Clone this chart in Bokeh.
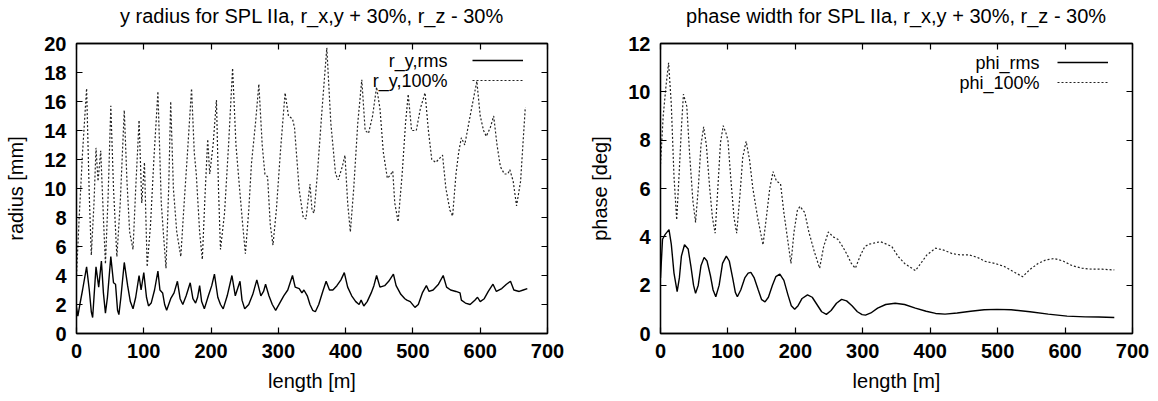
from bokeh.plotting import figure
from bokeh.layouts import row
from bokeh.models import Range1d, LinearAxis, FixedTicker, CustomJSTickFormatter, Legend, LegendItem, Label
from bokeh.embed import file_html
from bokeh.resources import INLINE

FONT = "Liberation Sans"

# ---------------- data: left panel (y radius) ----------------
ry100_x = [0, 4, 9, 15, 19, 22, 26, 29, 32, 36, 40, 43, 47, 51, 55, 60, 65, 71, 75, 79, 84, 88, 93, 97, 101, 105,
           110, 115, 121, 126, 129, 133, 137, 140, 144, 149, 155,
           160, 165, 171, 175, 178, 183, 187, 191, 195, 198, 203, 208, 211, 214,
           220, 226, 232, 237, 242, 247, 251, 256, 260, 266, 271, 276, 280, 284, 288, 292,
           297, 303, 310, 315, 321, 324, 331, 337, 341, 347, 350, 353, 358, 365, 372, 378, 385, 389, 395, 399, 403, 407,
           412, 418, 424, 429, 434, 440, 446, 451, 456, 462, 466, 470, 473, 478,
           484, 489, 493, 498, 505, 511, 518, 523, 528, 534, 540, 544, 549, 555, 559,
           564, 568, 572, 577, 585, 595, 600, 605, 609, 615, 620, 625, 630, 636, 641, 644, 649, 654, 660, 667]
ry100_y = [4.0, 8.0, 12.5, 16.9, 9.5, 5.4, 9.0, 12.8, 10.5, 12.6, 8.0, 4.8, 9.5, 15.7, 10.0, 5.3, 9.0, 15.4, 10.5, 7.0, 5.8, 10.0, 14.7, 9.0, 11.8, 4.6,
           7.5, 12.0, 16.7, 9.0, 7.0, 4.5, 10.0, 16.0, 10.0, 7.0, 5.3,
           9.0, 12.5, 16.9, 12.5, 11.0, 7.0, 5.1, 9.5, 13.4, 11.0, 13.0, 16.1, 10.0, 5.8,
           8.3, 13.0, 18.3, 13.0, 10.2, 7.5, 5.5, 8.5, 11.7, 14.5, 17.2, 13.0, 11.0, 10.8, 7.5, 6.1,
           8.5, 12.5, 16.6, 15.0, 14.8, 14.2, 9.9, 8.0, 7.9, 10.3, 8.5, 8.3, 11.0, 15.5, 19.7, 14.5, 11.0, 10.6, 11.5, 12.3, 9.0, 7.0,
           10.0, 14.5, 17.5, 14.0, 13.8, 15.0, 17.0, 15.5, 12.5, 10.7, 10.9, 11.2, 9.0, 7.7,
           11.0, 14.5, 16.5, 14.0, 14.0, 15.5, 16.6, 14.0, 12.0, 11.8, 12.1, 12.3, 10.0, 8.5, 8.1,
           11.0, 12.5, 13.5, 13.0, 15.0, 17.4, 15.0, 14.0, 13.6, 14.2, 15.0, 13.0, 11.5, 11.0, 11.0, 11.3, 10.5, 8.8, 10.5, 15.6]

ryrms_x = [0, 2, 5, 9, 15, 19, 22, 24, 26, 29, 33, 37, 40, 43, 46, 51, 55, 58, 61, 63, 66, 71, 76, 80, 84, 88, 93, 96,
           100, 104, 107, 111, 116, 121, 124, 128, 131, 134, 140, 145, 150, 154, 158, 163, 169, 173, 177, 180, 183, 186,
           190, 196, 201, 205, 210, 214, 218, 224, 231, 236, 243, 246, 250, 256, 262, 268, 274, 278, 281, 286, 291, 296,
           302, 308, 314, 321, 325, 331, 335, 338, 343, 347, 351, 355, 360, 366, 371, 376, 381, 387, 393, 398, 403, 409,
           415, 420, 423, 427, 432, 438, 442, 446, 451, 458, 464, 471, 475, 482, 488, 491, 496, 503, 508, 514, 520, 524,
           530, 538, 545, 550, 556, 564, 570, 572, 578, 585, 592, 596, 600, 606, 612, 619, 624, 632, 639, 645, 650, 658,
           664, 670]
ryrms_y = [1.8, 1.2, 2.0, 3.0, 4.6, 3.0, 1.5, 1.1, 2.5, 4.6, 3.2, 5.0, 2.8, 1.4, 2.5, 5.3, 3.5, 3.4, 1.6, 1.3, 2.5, 4.9, 3.3, 2.2, 1.7, 2.5, 4.0, 3.0,
           4.2, 2.5, 1.9, 2.1, 3.0, 4.3, 3.0, 2.8, 2.0, 1.6, 2.4, 2.8, 3.6, 2.4, 2.0, 2.6, 3.5, 2.4, 2.1, 2.5, 3.3, 2.2,
           1.7, 2.6, 3.3, 4.1, 2.5, 2.0, 1.7, 2.6, 4.0, 2.6, 3.6, 2.3, 1.7, 2.0, 2.7, 3.7, 2.6, 2.9, 3.4, 2.6, 2.0, 1.6,
           2.1, 2.6, 3.0, 4.0, 3.2, 3.1, 2.8, 3.0, 2.6, 2.0, 1.6, 1.5, 2.0, 2.9, 3.6, 3.0, 3.0, 3.3, 3.7, 4.2, 3.2, 2.6,
           2.2, 2.0, 2.3, 1.9, 2.2, 2.8, 3.3, 4.0, 3.2, 3.3, 3.6, 4.1, 3.3, 2.7, 2.4, 2.3, 2.2, 1.8, 2.0, 2.8, 3.3, 2.9,
           3.0, 3.4, 4.0, 3.2, 3.0, 2.9, 2.8, 2.3, 2.1, 2.0, 2.3, 2.5, 2.2, 2.4, 2.9, 3.4, 2.9, 3.1, 3.4, 3.6, 3.0, 2.9,
           3.0, 3.1]

# ---------------- data: right panel (phase width) ----------------
phi100_x = [0, 4, 8, 12, 16, 20, 24, 28, 31, 34, 39, 43, 48, 52, 56, 60, 64, 68, 73, 77, 81, 85, 89, 93, 97, 100,
            104, 109, 113, 118, 122, 127, 132, 137, 144, 152, 157, 162, 167, 172, 178, 183, 189, 193.5, 198, 203, 207,
            214, 220, 228, 236, 242, 249, 256, 263, 270, 277, 283, 289, 296, 303, 310, 318, 326, 335, 343, 352, 362,
            370, 378, 386, 395, 408, 420, 433, 446, 458, 470, 482, 496, 510, 524, 537, 548, 560, 572, 584, 597, 611,
            625, 640, 655, 673]
phi100_y = [7.0, 9.0, 10.2, 11.2, 9.5, 6.5, 4.7, 6.8, 8.5, 9.9, 9.4, 7.5, 5.5, 4.6, 6.0, 7.8, 8.55, 7.8, 6.0, 4.8, 4.15, 6.0, 7.9, 8.6, 8.3, 8.0,
            6.5, 4.8, 4.15, 5.8, 7.3, 7.95, 7.2, 6.0, 4.8, 3.67, 4.8, 6.0, 6.7, 6.3, 6.2, 5.0, 3.8, 2.9, 4.2, 5.1, 5.26,
            5.0, 4.2, 3.4, 2.7, 3.6, 4.2, 4.0, 3.9, 3.6, 3.25, 2.9, 2.7, 3.2, 3.6, 3.7, 3.75, 3.8, 3.7, 3.6, 3.2, 2.9,
            2.75, 2.6, 2.9, 3.25, 3.53, 3.45, 3.3, 3.25, 3.25, 3.15, 2.98, 2.9, 2.77, 2.55, 2.35, 2.65, 2.9, 3.05, 3.1, 3.0, 2.8,
            2.7, 2.66, 2.66, 2.63]

phirms_x = [0, 3, 7, 12.6, 16, 20, 24.7, 28, 31, 35.6, 41, 45, 49, 52, 56, 60, 64.7, 69, 74, 78, 82, 87, 92, 97.6,
            102, 107, 111, 114, 119, 125, 130, 134, 139, 145, 150, 155, 160, 166, 171, 177, 183, 189, 194, 199, 204,
            210, 218, 225, 232, 239, 246, 253, 261, 268.6, 276, 284, 292, 299, 304, 312, 322, 334, 348, 362, 378, 394,
            408, 422, 440, 460, 480, 499, 520, 548, 575, 603, 630, 650, 673]
phirms_y = [2.3, 3.9, 4.1, 4.3, 3.7, 2.5, 1.73, 2.3, 3.2, 3.67, 3.5, 2.8, 2.0, 1.66, 2.0, 2.8, 3.15, 3.0, 2.4, 1.8, 1.52, 2.0, 2.9, 3.2,
            3.0, 2.3, 1.7, 1.52, 1.8, 2.3, 2.5, 2.53, 2.3, 1.8, 1.4, 1.31, 1.5, 2.0, 2.35, 2.46, 2.2, 1.6, 1.15, 1.0, 1.15,
            1.45, 1.6, 1.5, 1.2, 0.9, 0.79, 0.95, 1.25, 1.41, 1.35, 1.15, 0.9, 0.78, 0.76, 0.85, 1.05, 1.2, 1.25, 1.2, 1.05, 0.92,
            0.83, 0.8, 0.85, 0.92, 0.98, 1.0, 0.98, 0.9, 0.8, 0.72, 0.69, 0.68, 0.66]

x_ticks = [0, 100, 200, 300, 400, 500, 600, 700]
left_y_ticks = [0, 2, 4, 6, 8, 10, 12, 14, 16, 18, 20]
right_y_ticks = [0, 2, 4, 6, 8, 10, 12]

FRAME_H = 290


def style_axis(ax, ticks, show_labels=True):
    ax.ticker = FixedTicker(ticks=ticks)
    ax.major_tick_in = 6
    ax.major_tick_out = 0
    ax.minor_tick_line_color = None
    ax.axis_line_color = "black"
    ax.axis_line_width = 1.3
    ax.major_tick_line_color = "black"
    ax.major_tick_line_width = 1.2
    ax.major_label_text_font = FONT
    ax.major_label_text_font_size = "20px"
    ax.major_label_text_font_style = "bold"
    ax.major_label_text_color = "black"
    ax.axis_label_text_font = FONT
    ax.axis_label_text_font_size = "20px"
    ax.axis_label_text_font_style = "normal"
    ax.axis_label_text_color = "black"
    ax.major_label_standoff = 10
    if not show_labels:
        ax.formatter = CustomJSTickFormatter(code="return ''")
        ax.major_label_text_font_size = "1px"
        ax.major_label_standoff = 0


def make_fig(title, ymax, yticks, ylabel, bl, fw, br):
    p = figure(frame_width=fw, frame_height=FRAME_H, min_border_left=bl, min_border_right=br,
               min_border_top=43, min_border_bottom=68,
               x_range=Range1d(0, 700), y_range=Range1d(0, ymax),
               output_backend="svg", toolbar_location=None)
    p.xgrid.visible = False
    p.ygrid.visible = False
    p.outline_line_color = "black"
    p.outline_line_width = 1.3
    style_axis(p.xaxis[0], x_ticks)
    style_axis(p.yaxis[0], yticks)
    p.xaxis[0].axis_label = "length [m]"
    p.yaxis[0].axis_label = ylabel
    p.xaxis[0].axis_label_standoff = 9
    p.yaxis[0].axis_label_standoff = 14
    # mirrored top axis (ticks only); its label carries the chart title
    top = LinearAxis()
    style_axis(top, x_ticks, show_labels=False)
    top.axis_label = title
    top.axis_label_text_font_size = "20px"
    top.axis_label_standoff = 17
    right = LinearAxis()
    style_axis(right, yticks, show_labels=False)
    p.add_layout(top, "above")
    p.add_layout(right, "right")
    return p


def add_legend(p, renderers, labels, loc, text_x, text_ys):
    items = [LegendItem(label=" ", renderers=[r]) for r in renderers]
    leg = Legend(items=items, location=loc, orientation="vertical")
    leg.background_fill_alpha = 0
    leg.border_line_color = None
    leg.padding = 0
    leg.margin = 0
    leg.spacing = 0
    leg.glyph_width = 51
    leg.glyph_height = 20
    leg.label_height = 20
    leg.label_width = 1
    leg.label_standoff = 0
    leg.label_text_font_size = "2px"
    p.add_layout(leg, "center")
    for lab, ty in zip(labels, text_ys):
        p.add_layout(Label(x=text_x, y=ty, x_units="screen", y_units="screen", text=lab,
                           text_align="right", text_baseline="middle", text_font=FONT,
                           text_font_size="18px", text_color="black"))


# left panel
p1 = make_fig("y radius for SPL IIa, r_x,y + 30%, r_z - 30%", 20, left_y_ticks, "radius [mm]", 76, 471, 33)
r1 = p1.line(ryrms_x, ryrms_y, line_color="black", line_width=1.4)
r2 = p1.line(ry100_x, ry100_y, line_color="#222222", line_width=1.2, line_dash="2 2")
add_legend(p1, [r1, r2], ["r_y,rms", "r_y,100%"], (396, 243), 371, [273, 253])

# right panel
p2 = make_fig("phase width for SPL IIa, r_x,y + 30%, r_z - 30%", 12, right_y_ticks, "phase [deg]", 80, 472, 26)
s1 = p2.line(phirms_x, phirms_y, line_color="black", line_width=1.4)
s2 = p2.line(phi100_x, phi100_y, line_color="#222222", line_width=1.2, line_dash="2 2")
add_legend(p2, [s1, s2], ["phi_rms", "phi_100%"], (397, 241), 379, [271, 251])

layout = row(p1, p2)
open("out.html", "w").write(file_html(layout, INLINE))
